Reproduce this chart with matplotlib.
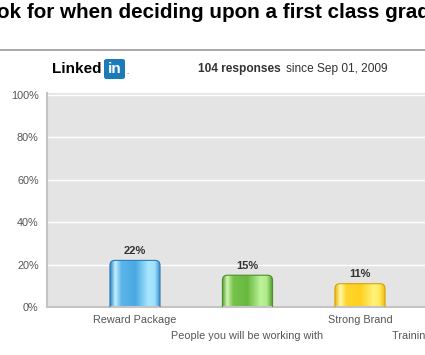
import numpy as np
import matplotlib.pyplot as plt
from matplotlib.patches import FancyBboxPatch
from matplotlib.colors import LinearSegmentedColormap

plt.rcParams['font.family'] = ['Liberation Sans', 'DejaVu Sans']

categories = ["Reward Package", "People you will be working with", "Strong Brand",
              "Training and career development"]
values = [22, 15, 11]
value_labels = ["22%", "15%", "11%"]
yticks = [0, 20, 40, 60, 80, 100]
ytick_labels = ["0%", "20%", "40%", "60%", "80%", "100%"]

# bar shading: left edge, highlight, body, right highlight, right edge
bar_colors = [
    ["#2f86c8", "#c4f0ff", "#5cb6ea", "#4aa8e2", "#a9e8ff", "#9ee0fb", "#3288c8"],
    ["#4f9a2c", "#d2f7b2", "#74c24a", "#68b83e", "#bdf39a", "#b0ec8a", "#4f9a2c"],
    ["#efb400", "#fffbb0", "#ffd52e", "#ffd020", "#fff27a", "#ffea5c", "#efb400"],
]
edge_colors = ["#2a7bb8", "#4a8f2a", "#d9a400"]

W, H = 425, 355
fig = plt.figure(figsize=(W / 100, H / 100), dpi=100)


def px(x, y):
    return x / W, 1 - y / H


# title (cut off in the screenshot)
fig.text(*px(-3, 12), "ok for when deciding upon a first class graduate employer?",
         fontsize=14.9, fontweight='bold', color='black', va='center', ha='left')
fig.add_artist(plt.Line2D([0, 1], [1 - 50 / H] * 2, color='#9a9a9a', lw=1.2))

# LinkedIn logo
fig.text(*px(52, 69), "Linked", fontsize=11, fontweight='bold', color='black', va='center', ha='left')
logo = FancyBboxPatch(px(104, 79), 21 / W, 20 / H, boxstyle="round,pad=0,rounding_size=0.006",
                      transform=fig.transFigure, facecolor='#1b7ab8', edgecolor='none')
fig.add_artist(logo)
fig.text(*px(114.5, 69), "in", fontsize=11, fontweight='bold', color='white', va='center', ha='center')
fig.text(*px(126, 73), ".", fontsize=6, color='#555555', va='center', ha='left')

fig.text(*px(198, 69), "104 responses", fontsize=8.6, fontweight='bold', color='#333333',
         va='center', ha='left')
fig.text(*px(286, 69), "since Sep 01, 2009", fontsize=8.6, color='#333333', va='center', ha='left')

# plot area: 0% at y=307, 2.12 px per percent, 112.5 px per category
ax = fig.add_axes([47 / W, 48 / H, (485 - 47) / W, 214 / H])
ax.set_facecolor('#e4e4e4')

x = np.arange(len(values))
bars = ax.bar(x, values, width=0.445, color='none', edgecolor='none')

xunit = 112.5
yunit = 2.12
r = 5 / xunit
asp = (5 / yunit) / r
grad = np.linspace(0, 1, 200).reshape(1, -1)
stops = [0, 0.1, 0.22, 0.5, 0.76, 0.88, 1]
for i, b in enumerate(bars):
    x0, w, h = b.get_x(), b.get_width(), b.get_height()
    cmap = LinearSegmentedColormap.from_list(f"b{i}", list(zip(stops, bar_colors[i])))
    clip = FancyBboxPatch((x0, -5), w, h + 5, boxstyle=f"round,pad=0,rounding_size={r}",
                          mutation_aspect=asp, transform=ax.transData, facecolor='none',
                          edgecolor='none')
    ax.add_patch(clip)
    im = ax.imshow(grad, extent=[x0, x0 + w, 0, h], aspect='auto', cmap=cmap, zorder=2,
                   interpolation='bilinear')
    im.set_clip_path(clip)
    edge = FancyBboxPatch((x0, -5), w, h + 5, boxstyle=f"round,pad=0,rounding_size={r}",
                          mutation_aspect=asp, facecolor='none', edgecolor=edge_colors[i],
                          lw=0.8, zorder=3)
    ax.add_patch(edge)
    ax.text(x[i], h + 2, value_labels[i], ha='center', va='bottom', fontsize=8,
            fontweight='bold', color='#333333')

ax.set_xlim(-0.782, -0.782 + (485 - 47) / xunit)
ax.set_ylim(0, 101)
ax.set_yticks(yticks)
ax.set_yticklabels(ytick_labels, fontsize=7.8, color='#555555')
ax.set_xticks(np.arange(len(categories)))
ax.set_xticklabels([c if i % 2 == 0 else "\n" + c for i, c in enumerate(categories)],
                   fontsize=7.8, color='#555555', linespacing=1.75)
ax.tick_params(axis='both', length=0)
ax.tick_params(axis='y', pad=6)
ax.tick_params(axis='x', pad=6)
ax.yaxis.grid(True, color='white', lw=1)
ax.set_axisbelow(True)
for s in ['top', 'right']:
    ax.spines[s].set_visible(False)
for s in ['left', 'bottom']:
    ax.spines[s].set_color('#c4c4c4')
    ax.spines[s].set_linewidth(1.5)

fig.savefig("out.png", dpi=100)
